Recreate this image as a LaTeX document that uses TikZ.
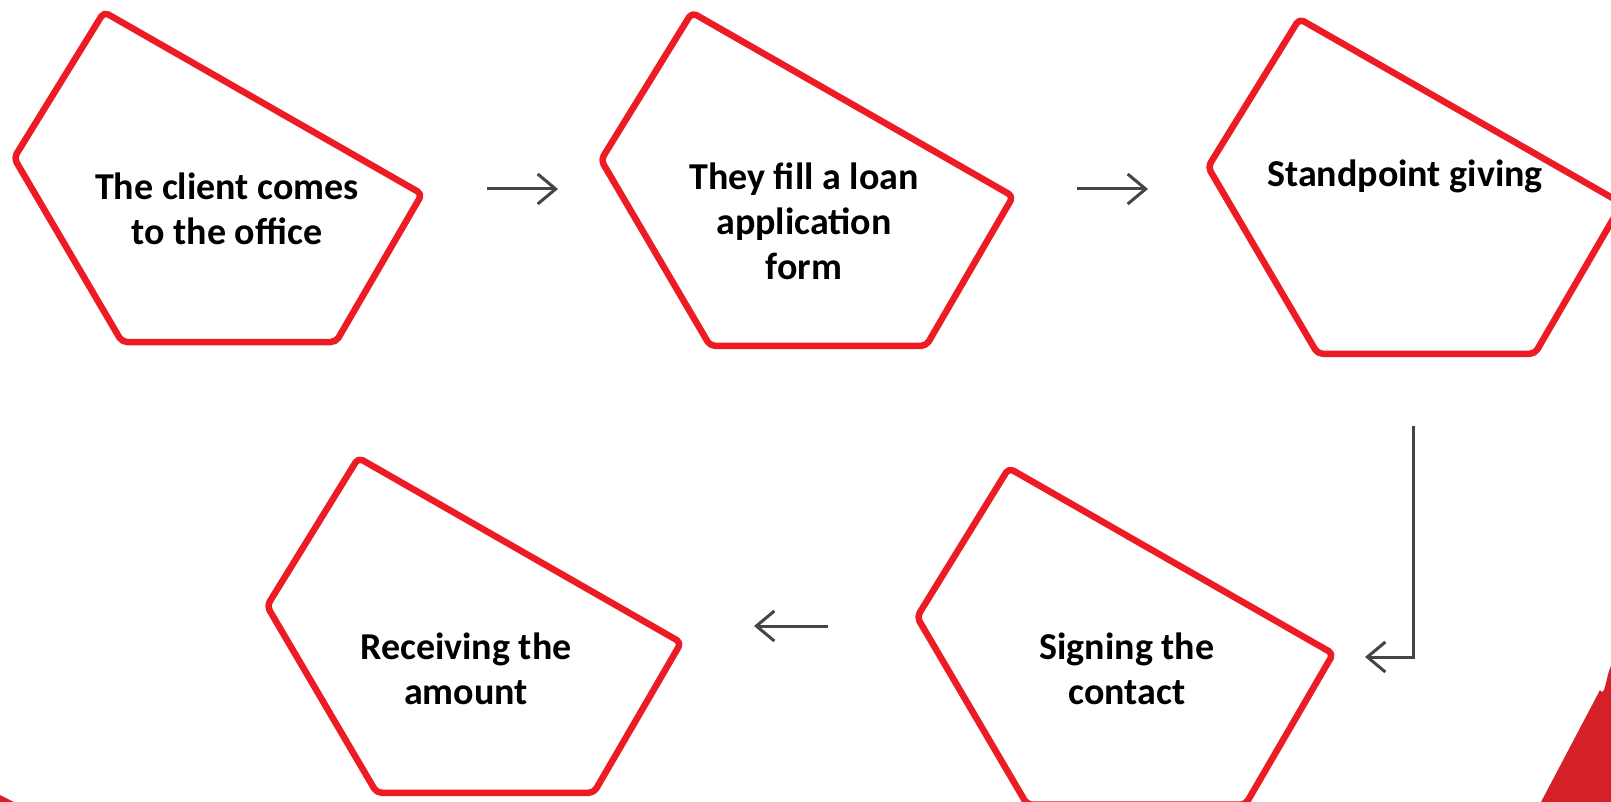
\documentclass[tikz,border=0pt]{standalone}
\usepackage{fontspec}
\setmainfont{Carlito}
\usetikzlibrary{arrows.meta}
\definecolor{pentred}{HTML}{ED1C24}
\definecolor{cornerred}{HTML}{D42027}
\definecolor{arrgray}{HTML}{454545}
\tikzset{
  pentline/.style={draw=pentred, line width=6.5pt, rounded corners=5pt, line join=round},
  lbl/.style={font=\fontsize{38}{45}\selectfont\bfseries, align=center, text=black, inner sep=0pt},
  flow/.style={draw=arrgray, line width=3pt, -{Straight Barb[length=18pt,width=30pt,line width=3pt]}},
}
\newcommand{\pentshape}[3]{%
  \draw[pentline] (#1,#2) -- ++(90*#3,-146*#3) -- ++(318*#3,182*#3) -- ++(-86*#3,148*#3) -- ++(-214*#3,0) -- cycle;}
\begin{document}
\begin{tikzpicture}[x=1pt,y=-1pt]
\useasboundingbox (0,0) rectangle (1611,802);
\clip (0,0) rectangle (1611,802);
\fill[white] (0,0) rectangle (1611,802);
% corner decorations
\fill[cornerred] (1541,802) -- (1600,690) to[out=-62,in=-118] (1611,666) -- (1611,802) -- cycle;
\fill[cornerred] (0,795) -- (14,802) -- (0,802) -- cycle;
% shapes
\pentshape{14}{158}{1.0}
\pentshape{601}{160}{1.01}
\pentshape{1208}{167}{1.015}
\pentshape{917}{617}{1.02}
\pentshape{267}{606}{1.015}
% labels
\node[lbl] (n1) at (227,209) {The client comes\\to the office};
\node[lbl] (n2) at (804,221) {They fill a loan\\application\\form};
\node[lbl] (n3) at (1405,176) {Standpoint giving};
\node[lbl] (n4) at (1127,669) {Signing the\\contact};
\node[lbl] (n5) at (466,669) {Receiving the\\amount};
% connector ends
\coordinate (a1s) at (487,189);
\coordinate (a1e) at (558,189);
\coordinate (a2s) at (1077,189);
\coordinate (a2e) at (1148,189);
\coordinate (a3s) at (1413,426);
\coordinate (a3c) at (1413,657);
\coordinate (a3e) at (1365,657);
\coordinate (a4s) at (828,626);
\coordinate (a4e) at (754,626);
\draw[flow] (a1s) -- (a1e);
\draw[flow] (a2s) -- (a2e);
\draw[flow] (a3s) -- (a3c) -- (a3e);
\draw[flow] (a4s) -- (a4e);
\end{tikzpicture}
\end{document}
